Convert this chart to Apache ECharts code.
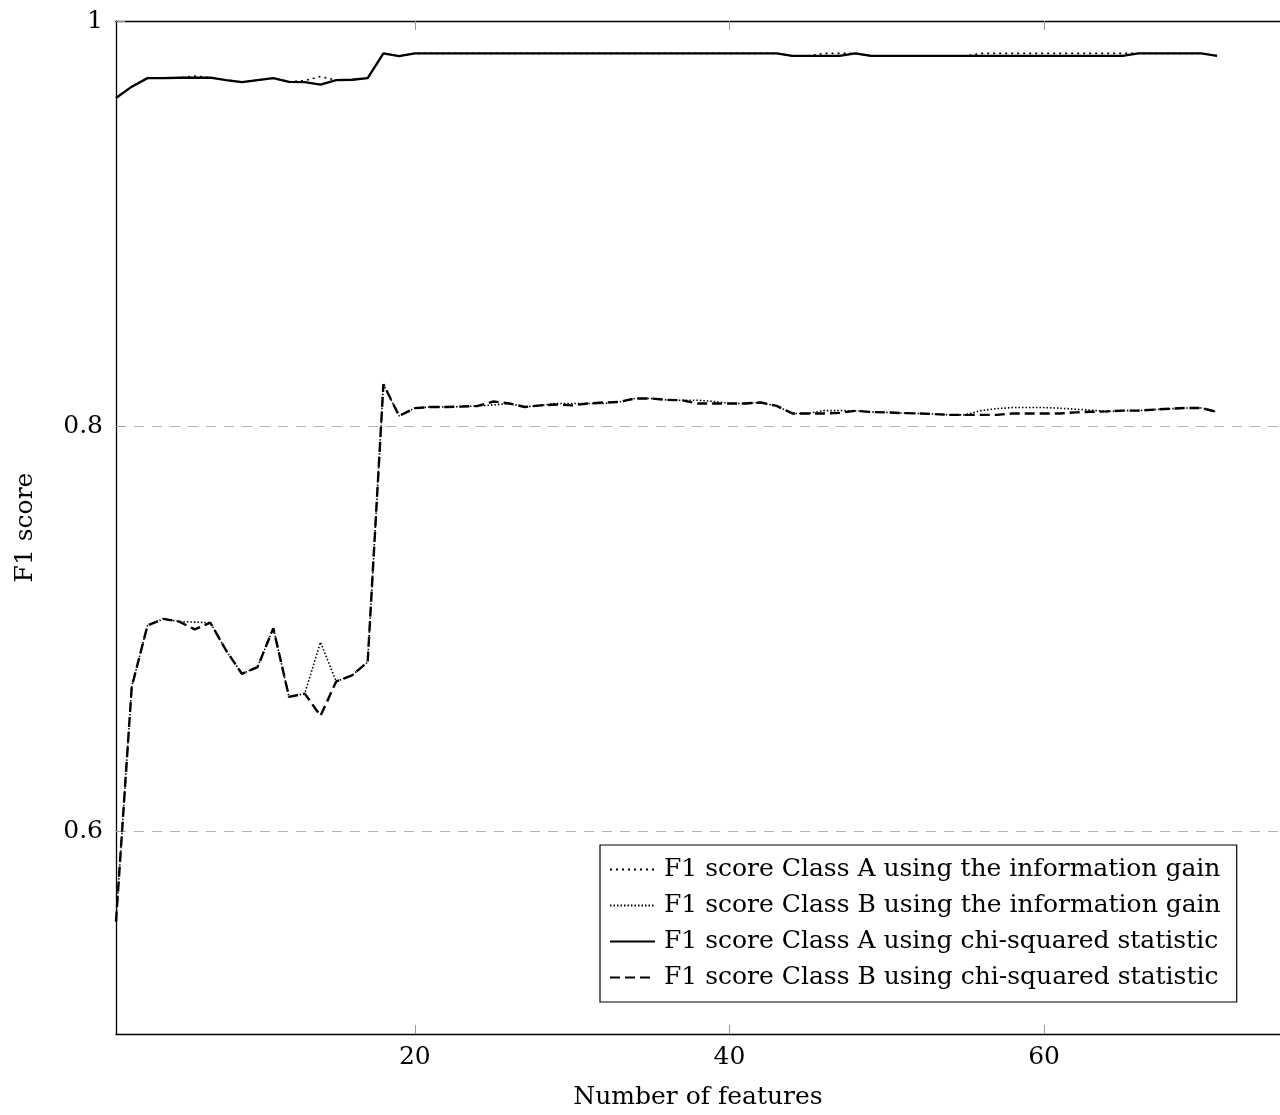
<!DOCTYPE html>
<html>
<head>
<meta charset="utf-8">
<title>F1 score vs number of features</title>
<script src="https://cdn.jsdelivr.net/npm/echarts@6/dist/echarts.min.js"></script>
<style>
	html, body { margin: 0; padding: 0; background: #fff; }
	#main { width: 1280px; height: 1115px; }
</style>
</head>
<body>
<div id="main"></div>
<script>
// number of selected features (x axis)
var featureCounts = [1, 2, 3, 4, 5, 6, 7, 8, 9, 10, 11, 12, 13, 14, 15, 16, 17, 18, 19, 20,
	21, 22, 23, 24, 25, 26, 27, 28, 29, 30, 31, 32, 33, 34, 35, 36, 37, 38, 39, 40,
	41, 42, 43, 44, 45, 46, 47, 48, 49, 50, 51, 52, 53, 54, 55, 56, 57, 58, 59, 60,
	61, 62, 63, 64, 65, 66, 67, 68, 69, 70, 71];

// F1 score Class A, information gain
var f1AInfoGain = [0.962, 0.9676, 0.9718, 0.9718, 0.972, 0.9728, 0.972, 0.9708, 0.9698, 0.9708,
	0.9718, 0.970, 0.9706, 0.9726, 0.9708, 0.971, 0.9718, 0.984, 0.9827, 0.984,
	0.984, 0.984, 0.984, 0.984, 0.984, 0.984, 0.984, 0.984, 0.984, 0.984,
	0.984, 0.984, 0.984, 0.984, 0.984, 0.984, 0.984, 0.984, 0.984, 0.984,
	0.984, 0.984, 0.984, 0.9828, 0.9828, 0.984, 0.984, 0.984, 0.9828, 0.9828,
	0.9828, 0.9828, 0.9828, 0.9828, 0.9828, 0.984, 0.984, 0.984, 0.984, 0.984,
	0.984, 0.984, 0.984, 0.984, 0.984, 0.984, 0.984, 0.984, 0.984, 0.984, 0.9828];

// F1 score Class B, information gain
var f1BInfoGain = [0.5555, 0.6713, 0.7016, 0.7049, 0.7036, 0.7033, 0.703, 0.6893, 0.6778, 0.6811,
	0.7003, 0.6664, 0.668, 0.6934, 0.674, 0.677, 0.6836, 0.8207, 0.8051, 0.8089,
	0.8095, 0.8095, 0.8097, 0.810, 0.8105, 0.8112, 0.8095, 0.8103, 0.8112, 0.8112,
	0.8112, 0.8112, 0.812, 0.8137, 0.8137, 0.813, 0.8128, 0.8128, 0.8122, 0.8112,
	0.8112, 0.8117, 0.810, 0.8063, 0.8063, 0.8077, 0.8077, 0.8076, 0.807, 0.8068,
	0.8065, 0.8063, 0.806, 0.8056, 0.8056, 0.8077, 0.8087, 0.8092, 0.8092, 0.8092,
	0.8089, 0.8084, 0.8079, 0.8073, 0.8077, 0.8077, 0.8082, 0.8086, 0.809, 0.809, 0.807];

// F1 score Class A, chi-squared statistic
var f1AChiSquared = [0.962, 0.9676, 0.9718, 0.9718, 0.972, 0.972, 0.972, 0.9708, 0.9698, 0.9708,
	0.9718, 0.970, 0.9698, 0.9686, 0.9708, 0.971, 0.9718, 0.984, 0.9827, 0.984,
	0.984, 0.984, 0.984, 0.984, 0.984, 0.984, 0.984, 0.984, 0.984, 0.984,
	0.984, 0.984, 0.984, 0.984, 0.984, 0.984, 0.984, 0.984, 0.984, 0.984,
	0.984, 0.984, 0.984, 0.9828, 0.9828, 0.9828, 0.9828, 0.984, 0.9828, 0.9828,
	0.9828, 0.9828, 0.9828, 0.9828, 0.9828, 0.9828, 0.9828, 0.9828, 0.9828, 0.9828,
	0.9828, 0.9828, 0.9828, 0.9828, 0.9828, 0.984, 0.984, 0.984, 0.984, 0.984, 0.9828];

// F1 score Class B, chi-squared statistic
var f1BChiSquared = [0.5555, 0.6713, 0.7016, 0.7049, 0.7036, 0.6997, 0.703, 0.6893, 0.6778, 0.6811,
	0.7003, 0.6664, 0.668, 0.657, 0.674, 0.677, 0.6836, 0.8207, 0.8051, 0.8089,
	0.8095, 0.8095, 0.8097, 0.810, 0.8122, 0.8112, 0.8095, 0.8103, 0.8107, 0.8103,
	0.8112, 0.8117, 0.812, 0.8137, 0.8137, 0.813, 0.8128, 0.8112, 0.8112, 0.8112,
	0.8112, 0.8117, 0.810, 0.8063, 0.8063, 0.8063, 0.8066, 0.8076, 0.807, 0.8068,
	0.8065, 0.8063, 0.806, 0.8056, 0.8056, 0.8056, 0.8056, 0.8063, 0.8063, 0.8063,
	0.8063, 0.8068, 0.8071, 0.8073, 0.8077, 0.8077, 0.8082, 0.8086, 0.809, 0.809, 0.807];

var xTicks = [20, 40, 60];
var yTicks = [0.6, 0.8, 1];

var seriesNames = [
	'F1 score Class A using the information gain',
	'F1 score Class B using the information gain',
	'F1 score Class A using chi-squared statistic',
	'F1 score Class B using chi-squared statistic'
];

var serifFont = '"DejaVu Serif", "Liberation Serif", serif';

function toPairs(values) {
	return featureCounts.map(function (x, i) { return [x, values[i]]; });
}

function makeLine(name, values, dash, width) {
	return {
		name: name,
		type: 'line',
		data: toPairs(values),
		symbol: 'none',
		showSymbol: false,
		animation: false,
		lineStyle: { color: '#000', width: width, type: dash, cap: 'butt' },
		itemStyle: { color: '#000' }
	};
}

var myChart = echarts.init(document.getElementById('main'), null, { renderer: 'canvas' });
var option = {
	backgroundColor: '#fff',
	animation: false,
	grid: { left: 116, top: 21, width: 1165, height: 1015 },
	legend: {
		orient: 'vertical',
		left: 600,
		top: 845,
		backgroundColor: '#fff',
		borderColor: '#000',
		borderWidth: 1.2,
		borderRadius: 0,
		padding: [12, 16, 12, 9],
		itemGap: 11,
		itemWidth: 45,
		itemHeight: 14,
		itemStyle: { opacity: 0 },
		textStyle: { fontFamily: serifFont, fontSize: 25, color: '#000', padding: [0, 0, 0, 4] },
		data: seriesNames
	},
	xAxis: [{
		type: 'value',
		min: 1,
		max: 75,
		position: 'bottom',
		name: 'Number of features',
		nameLocation: 'middle',
		nameGap: 51,
		nameTextStyle: { fontFamily: serifFont, fontSize: 25, color: '#000' },
		axisLine: { onZero: false, lineStyle: { color: '#000', width: 1.3 } },
		axisTick: { inside: true, length: 9, customValues: xTicks, lineStyle: { color: '#999', width: 1 } },
		axisLabel: { customValues: xTicks, fontFamily: serifFont, fontSize: 25, color: '#000', margin: 11 },
		splitLine: { show: false }
	}, {
		type: 'value',
		min: 1,
		max: 75,
		position: 'top',
		axisLine: { onZero: false, lineStyle: { color: '#000', width: 1.3 } },
		axisTick: { inside: true, length: 9, customValues: xTicks, lineStyle: { color: '#999', width: 1 } },
		axisLabel: { show: false },
		splitLine: { show: false }
	}],
	yAxis: {
		type: 'value',
		min: 0.5,
		max: 1,
		name: 'F1 score',
		nameLocation: 'middle',
		nameGap: 78,
		nameTextStyle: { fontFamily: serifFont, fontSize: 25, color: '#000' },
		axisLine: { show: true, onZero: false, lineStyle: { color: '#000', width: 1.3 } },
		axisTick: { inside: true, length: 9, customValues: yTicks, lineStyle: { color: '#999', width: 1 } },
		axisLabel: {
			customValues: yTicks,
			fontFamily: serifFont,
			fontSize: 25,
			color: '#000',
			margin: 13,
			formatter: function (v) { return String(+v.toFixed(1)); }
		},
		splitLine: { show: true, lineStyle: { color: '#b4b4b4', width: 1, type: [10, 8] } }
	},
	series: [
		makeLine(seriesNames[0], f1AInfoGain, [2, 4], 1.6),
		makeLine(seriesNames[1], f1BInfoGain, [1.5, 2], 1.6),
		makeLine(seriesNames[2], f1AChiSquared, 'solid', 2.3),
		makeLine(seriesNames[3], f1BChiSquared, [10, 5], 2.4)
	]
};
myChart.setOption(option);
</script>
</body>
</html>
